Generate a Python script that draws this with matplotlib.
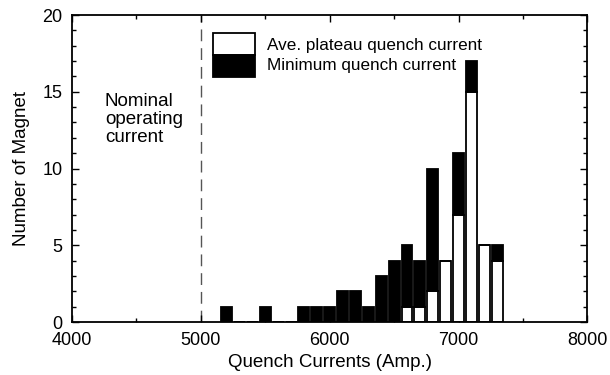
import matplotlib
matplotlib.use("Agg")
import matplotlib.pyplot as plt
from matplotlib.patches import Rectangle
from matplotlib.ticker import MultipleLocator

plt.rcParams['font.family'] = ['Liberation Sans', 'DejaVu Sans']

bin_centers = [5200, 5300, 5400, 5500, 5600, 5700, 5800, 5900, 6000, 6100, 6200,
               6300, 6400, 6500, 6600, 6700, 6800, 6900, 7000, 7100, 7200, 7300]
ave_plateau = [0, 0, 0, 0, 0, 0, 0, 0, 0, 0, 0,
               0, 0, 0, 1, 1, 2, 4, 7, 15, 5, 4]
minimum_q = [1, 0, 0, 1, 0, 0, 1, 1, 1, 2, 2,
             1, 3, 4, 4, 3, 8, 0, 4, 2, 0, 1]
nominal_current = 5000

fig = plt.figure(figsize=(6.1, 3.75), dpi=100)
ax = fig.add_axes([0.118, 0.141, 0.845, 0.819])

ax.bar(bin_centers, ave_plateau, width=85, color='white', edgecolor='black', linewidth=1.3, zorder=2)
ax.bar(bin_centers, minimum_q, bottom=ave_plateau, width=85, color='black', edgecolor='black',
       linewidth=1.3, zorder=3)

ax.axvline(nominal_current, color='#555555', linestyle=(0, (8.5, 5)), linewidth=1.0, zorder=1)

ax.set_xlim(4000, 8000)
ax.set_ylim(0, 20)
ax.xaxis.set_major_locator(MultipleLocator(1000))
ax.xaxis.set_minor_locator(MultipleLocator(500))
ax.yaxis.set_major_locator(MultipleLocator(5))
ax.yaxis.set_minor_locator(MultipleLocator(1))
ax.tick_params(which='both', direction='in', top=True, right=True, labelsize=13, width=1.0)
ax.tick_params(which='major', length=5)
ax.tick_params(which='minor', length=3)
ax.tick_params(axis='x', pad=7)
ax.tick_params(axis='y', pad=7)
for s in ax.spines.values():
    s.set_linewidth(1.3)

ax.set_xlabel('Quench Currents (Amp.)', fontsize=13.5, labelpad=4)
ax.set_ylabel('Number of Magnet', fontsize=13.5, labelpad=9)

ax.text(4256, 14.9, 'Nominal\noperating\ncurrent', fontsize=13.5, va='top', ha='left',
        linespacing=1.05)

# legend
ax.add_patch(Rectangle((0.274, 0.870), 0.082, 0.071, transform=ax.transAxes,
                       facecolor='white', edgecolor='black', linewidth=1.3, zorder=4))
ax.add_patch(Rectangle((0.274, 0.799), 0.082, 0.071, transform=ax.transAxes,
                       facecolor='black', edgecolor='black', linewidth=1.3, zorder=4))
ax.text(0.379, 0.902, 'Ave. plateau quench current', transform=ax.transAxes,
        fontsize=12.3, va='center', ha='left')
ax.text(0.379, 0.834, 'Minimum quench current', transform=ax.transAxes,
        fontsize=12.3, va='center', ha='left')

fig.savefig('out.png', dpi=100)
